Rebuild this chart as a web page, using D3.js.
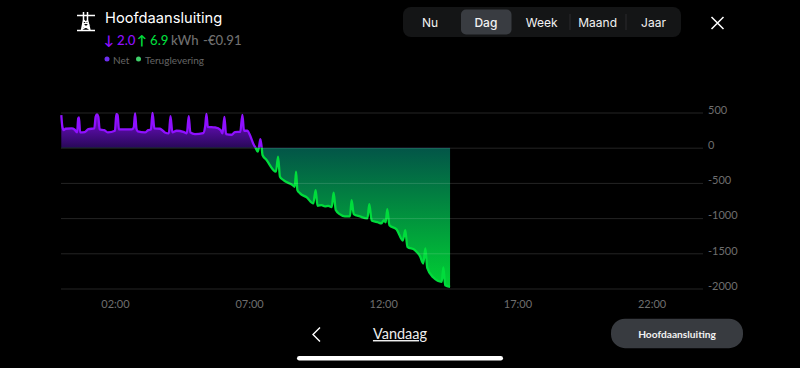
<!DOCTYPE html>
<html>
<head>
<meta charset="utf-8">
<script src="https://cdn.jsdelivr.net/npm/d3@7"></script>
<style>
    html, body { margin: 0; background: #000; overflow: hidden; }
    text { font-family: Lato, sans-serif; }
    .ui { font-family: Inter, sans-serif; }
    .axis path { display: none; }
    .axis line { stroke: rgba(255, 255, 255, 0.14); }
    .axis text { fill: #6e6e6e; font-size: 11px; font-family: Lato, sans-serif; }
</style>
</head>
<body>
<svg id="chart" width="800" height="368"></svg>
<script>
const hours = [0, .04, .09, .16, .39, .49, .59, .63, .66, .70, .88, 1.01, 1.23, 1.28, 1.33, 1.38, 1.43, 1.60, 1.73, 2.00, 2.05, 2.10, 2.15, 2.62, 2.70, 2.75, 2.80, 2.85, 3.12, 3.24, 3.34, 3.40, 3.47, 3.68, 3.86, 4.01, 4.07, 4.14, 4.30, 4.55, 4.68, 4.75, 4.81, 4.98, 5.29, 5.36, 5.41, 5.46, 5.73, 5.94, 6.01, 6.08, 6.14, 6.35, 6.47, 6.67, 6.75, 6.81, 6.94, 7.03, 7.16, 7.24, 7.32, 7.37, 7.42, 7.47, 7.50, 7.65, 8.00, 8.08, 8.15, 8.28, 8.62, 8.70, 8.75, 8.80, 8.90, 9.15, 9.39, 9.48, 9.55, 9.70, 9.83, 9.95, 10.08, 10.15, 10.23, 10.39, 10.57, 10.76, 10.82, 10.90, 11.13, 11.41, 11.48, 11.57, 11.82, 11.92, 12.03, 12.09, 12.15, 12.23, 12.50, 12.73, 12.82, 12.90, 13.18, 13.37, 13.49, 13.57, 13.64, 13.87, 14.18, 14.24, 14.31, 14.49];
const watts = [462, 297, 250, 269, 274, 259, 217, 415, 429, 217, 222, 264, 274, 439, 472, 439, 259, 250, 217, 241, 476, 462, 259, 259, 288, 486, 274, 231, 217, 250, 259, 495, 274, 269, 217, 203, 448, 217, 241, 226, 203, 448, 217, 193, 208, 297, 481, 297, 288, 250, 203, 439, 193, 184, 222, 226, 467, 241, 241, 179, 52, 0, -57, 14, 123, 0, -104, -175, -341, -128, -412, -460, -531, -555, -341, -602, -649, -706, -792, -602, -825, -815, -834, -825, -844, -640, -886, -948, -976, -976, -744, -943, -976, -1005, -801, -1033, -1062, -1076, -1029, -1062, -872, -1100, -1161, -1318, -1171, -1408, -1455, -1541, -1645, -1431, -1706, -1844, -1905, -1702, -1953, -1977];

const yTicks = [500, 0, -500, -1000, -1500, -2000];
const xTicks = [2, 7, 12, 17, 22];
const tabs = ["Nu", "Dag", "Week", "Maand", "Jaar"];

const WIDTH = 800;
const HEIGHT = 368;
const PURPLE = "#8f10ff";
const GREEN = "#00dc3c";

const svg = d3.select("#chart");

const x = d3.scaleLinear().domain([0, 24]).range([61.3, 705.2]);
const y = d3.scaleLinear().domain([500, -2000]).range([112.5, 288.5]);

// gradients
const defs = svg.append("defs");
const addGradient = (id, from, to, stops) => {
    const g = defs.append("linearGradient")
        .attr("id", id)
        .attr("gradientUnits", "userSpaceOnUse")
        .attr("x1", 0).attr("x2", 0)
        .attr("y1", y(from)).attr("y2", y(to));
    stops.forEach(([o, c]) => g.append("stop").attr("offset", o).attr("stop-color", c));
};
addGradient("fillNet", 500, 0, [[0, "#7a10d8"], [1, "#280858"]]);
addGradient("fillFeed", 0, -2000, [[0, "#035548"], [1, "#00d233"]]);

// split the one series at zero: above is net, below is feed-in
const addClip = (id, top, bottom) => {
    defs.append("clipPath").attr("id", id)
        .append("rect")
        .attr("x", 0).attr("width", WIDTH)
        .attr("y", top).attr("height", bottom - top);
};
addClip("clipNet", 0, y(0));
addClip("clipFeed", y(0), HEIGHT);

const points = hours.map((h, i) => ({h, v: watts[i]}));
const area = d3.area().curve(d3.curveMonotoneX).x(d => x(d.h)).y0(y(0)).y1(d => y(d.v));
const line = d3.line().curve(d3.curveMonotoneX).x(d => x(d.h)).y(d => y(d.v));

[["clipNet", "fillNet", PURPLE], ["clipFeed", "fillFeed", GREEN]].forEach(([clip, fill, stroke]) => {
    const g = svg.append("g").attr("clip-path", "url(#" + clip + ")");
    g.append("path").datum(points).attr("d", area).attr("fill", "url(#" + fill + ")");
    g.append("path").datum(points).attr("d", line)
        .attr("fill", "none")
        .attr("stroke", stroke)
        .attr("stroke-width", 2.3)
        .attr("stroke-linejoin", "round");
});

// gridlines + value labels, on top so they show through the fill
const yAxis = d3.axisRight(y)
    .tickValues(yTicks)
    .tickSize(642)
    .tickPadding(5)
    .tickFormat(d => String(d));
const gy = svg.append("g")
    .attr("class", "axis")
    .attr("transform", "translate(61,0)")
    .call(yAxis);
gy.selectAll("text").attr("dy", "0.08em");

const xAxis = d3.axisBottom(x)
    .tickValues(xTicks)
    .tickSize(0)
    .tickPadding(0)
    .tickFormat(d => d3.format("02")(d) + ":00");
svg.append("g")
    .attr("class", "axis")
    .attr("transform", "translate(0,300)")
    .call(xAxis);

// header
svg.append("g")
    .attr("fill", "none")
    .attr("stroke", "#fff")
    .attr("stroke-width", 1.5)
    .append("path")
    .attr("d", "M77 30.5H95 M77 15.5H95 M83.5 12V20L81.5 30.5 M87.5 12V20L90 30.5 M83.5 20L89 25L82 29 M88 20L83 25L89.5 29");

svg.append("text").attr("class", "ui").attr("x", 105).attr("y", 23)
    .attr("font-size", 14.7).attr("fill", "#fff").text("Hoofdaansluiting");

const summary = svg.append("text").attr("y", 45).attr("font-size", 13.2).attr("font-weight", 500);
summary.append("tspan").attr("x", 104).attr("fill", PURPLE).attr("font-weight", 700).text("↓");
summary.append("tspan").attr("x", 117).attr("fill", PURPLE).text("2.0");
summary.append("tspan").attr("x", 137).attr("fill", GREEN).attr("font-weight", 700).text("↑");
summary.append("tspan").attr("x", 150).attr("fill", GREEN).text("6.9");
summary.append("tspan").attr("x", 171).attr("fill", "#6f6f6f").text("kWh");
summary.append("tspan").attr("x", 203).attr("fill", "#6f6f6f").text("-€0.91");

[[107, 113, "#6d2ef0", "Net"], [138.5, 145, "#3fd06a", "Teruglevering"]].forEach(([cx, tx, c, label]) => {
    svg.append("circle").attr("cx", cx).attr("cy", 59).attr("r", 2.5).attr("fill", c);
    svg.append("text").attr("x", tx).attr("y", 63.5)
        .attr("font-size", 10).attr("fill", "#666").text(label);
});

// period tabs
svg.append("rect").attr("x", 403).attr("y", 7).attr("width", 278).attr("height", 30).attr("rx", 8).attr("fill", "#141516");
svg.append("rect").attr("x", 461).attr("y", 9.5).attr("width", 50.5).attr("height", 25).attr("rx", 5).attr("fill", "#393c41");
[570, 626].forEach(dx => {
    svg.append("line").attr("x1", dx).attr("x2", dx).attr("y1", 14).attr("y2", 30).attr("stroke", "#2a2b2d");
});
const tabX = d3.scalePoint().domain(tabs).range([430, 653.5]);
svg.selectAll("text.tab").data(tabs).enter().append("text")
    .attr("class", "tab ui")
    .attr("x", d => tabX(d))
    .attr("y", 26.5)
    .attr("text-anchor", "middle")
    .attr("font-size", 12)
    .attr("font-weight", d => d === "Dag" ? 500 : 400)
    .attr("fill", "#f2f2f2")
    .text(d => d);

svg.append("path").attr("d", "M711.5 17L723.5 29M723.5 17L711.5 29")
    .attr("stroke", "#fff").attr("stroke-width", 1.5).attr("fill", "none");

// footer
svg.append("path").attr("d", "M320 327.5L313 334.5L320 341.5")
    .attr("stroke", "#fff").attr("stroke-width", 1.4).attr("fill", "none");
svg.append("text").attr("x", 400).attr("y", 339)
    .attr("text-anchor", "middle")
    .attr("font-size", 14.5)
    .attr("fill", "#eee")
    .attr("text-decoration", "underline")
    .text("Vandaag");
svg.append("rect").attr("x", 611).attr("y", 318.7).attr("width", 132).attr("height", 29.5).attr("rx", 14).attr("fill", "#383b40");
svg.append("text").attr("x", 677).attr("y", 338)
    .attr("text-anchor", "middle")
    .attr("font-size", 10.2)
    .attr("font-weight", 700)
    .attr("fill", "#f2f2f2")
    .text("Hoofdaansluiting");
svg.append("rect").attr("x", 297).attr("y", 356).attr("width", 206).attr("height", 4.5).attr("rx", 2.25).attr("fill", "#fff");
</script>
</body>
</html>
